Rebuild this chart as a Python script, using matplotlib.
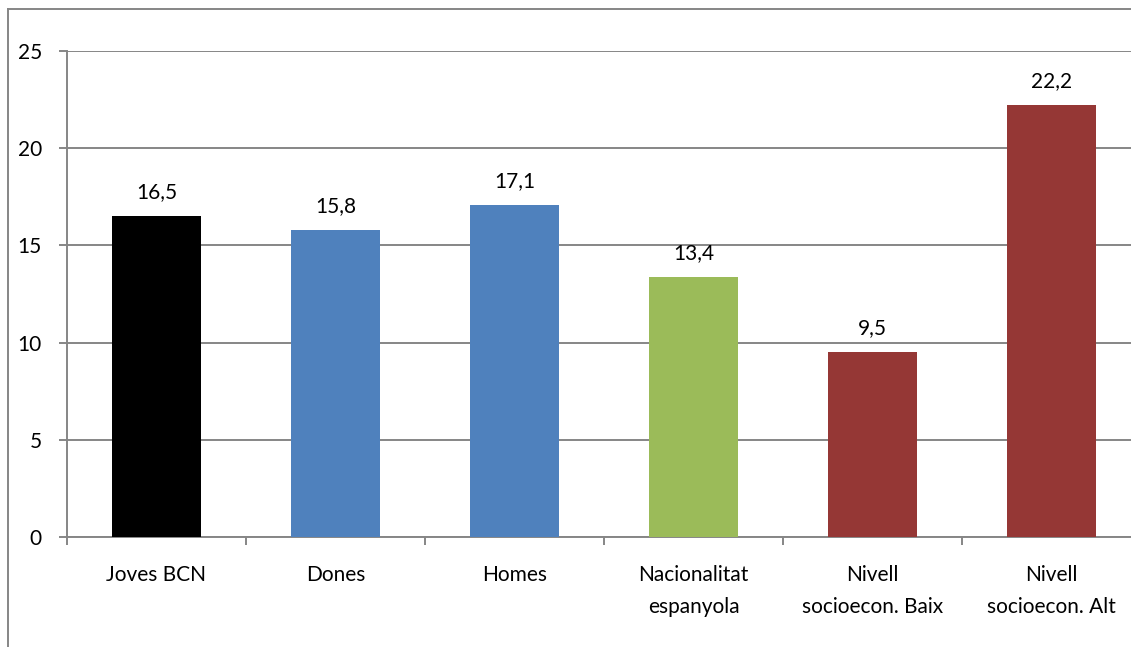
import matplotlib
matplotlib.use("Agg")
import matplotlib.pyplot as plt
from matplotlib.lines import Line2D

categories = ["Joves BCN", "Dones", "Homes", "Nacionalitat\nespanyola",
              "Nivell\nsocioecon. Baix", "Nivell\nsocioecon. Alt"]
values = [16.5, 15.8, 17.1, 13.4, 9.5, 22.2]
labels = ["16,5", "15,8", "17,1", "13,4", "9,5", "22,2"]
colors = ["#000000", "#4F81BD", "#4F81BD", "#9BBB59", "#953735", "#953735"]
yticks = [0, 5, 10, 15, 20, 25]

plt.rcParams['font.family'] = ['Lato', 'DejaVu Sans']
FS = 15
W, H = 1131, 647
fig = plt.figure(figsize=(W / 100, H / 100), dpi=100)
ax = fig.add_axes([67 / W, (H - 537) / H, (1141 - 67) / W, (537 - 51) / H])

grey = "#868686"
x = list(range(len(categories)))
ax.bar(x, values, width=0.5, color=colors, zorder=3)
for xi, v, lab in zip(x, values, labels):
    ax.annotate(lab, (xi, v), xytext=(0, 10), textcoords="offset points",
                ha="center", va="bottom", fontsize=FS, color="#000000")

ax.set_xlim(-0.5, len(categories) - 0.5)
ax.set_ylim(0, 25)
ax.set_yticks(yticks)
ax.set_yticklabels([str(t) for t in yticks], fontsize=FS)
ax.set_xticks(x)
ax.set_xticklabels(categories, fontsize=FS, linespacing=1.75)
ax.set_xticks([i - 0.5 for i in range(len(categories) + 1)], minor=True)
ax.tick_params(axis="x", which="major", length=0, pad=20)
ax.tick_params(axis="x", which="minor", length=6, width=1.4, color=grey, direction="out")
ax.tick_params(axis="y", length=6, width=1.4, color=grey, pad=12)
ax.yaxis.grid(True, color=grey, linewidth=1.4, zorder=0)
ax.set_axisbelow(True)
for s in ["top", "right"]:
    ax.spines[s].set_visible(False)
for s in ["left", "bottom"]:
    ax.spines[s].set_color(grey)
    ax.spines[s].set_linewidth(1.4)

# outer chart frame
fig.add_artist(Line2D([8 / W, 1.0], [1 - 9 / H, 1 - 9 / H], color=grey, lw=1.4))
fig.add_artist(Line2D([8 / W, 8 / W], [0, 1 - 9 / H], color=grey, lw=1.4))

fig.savefig("out.png", dpi=100)
